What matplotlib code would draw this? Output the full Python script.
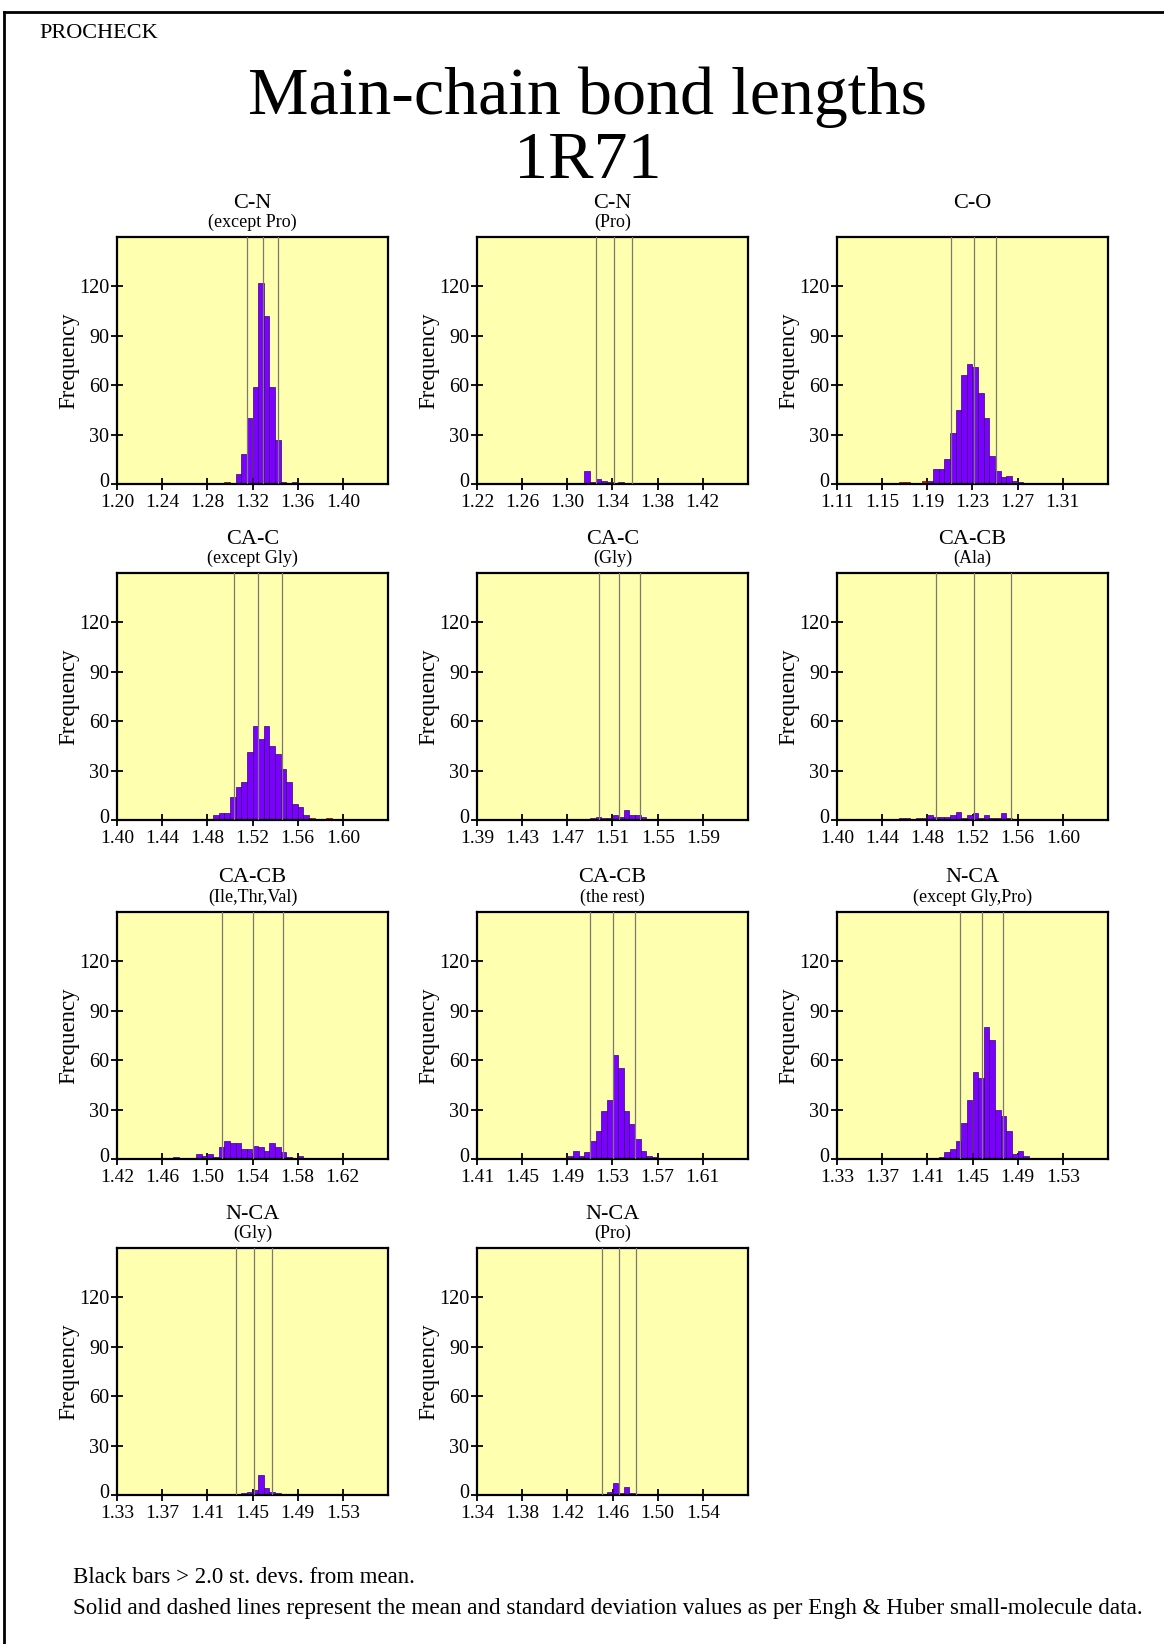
import matplotlib
matplotlib.use('Agg')
import matplotlib.pyplot as plt
from matplotlib.lines import Line2D
from matplotlib.transforms import ScaledTranslation
import numpy as np

plt.rcParams['font.family'] = ['Liberation Serif', 'DejaVu Serif']

W, H = 1164, 1644
BIN = 0.005

# panel labels
titles = ['C-N', 'C-N', 'C-O', 'CA-C', 'CA-C', 'CA-CB', 'CA-CB', 'CA-CB', 'N-CA', 'N-CA', 'N-CA']
subtitles = ['(except Pro)', '(Pro)', '', '(except Gly)', '(Gly)', '(Ala)',
             '(Ile,Thr,Val)', '(the rest)', '(except Gly,Pro)', '(Gly)', '(Pro)']
x_start = [1.20, 1.22, 1.11, 1.40, 1.39, 1.40, 1.42, 1.41, 1.33, 1.33, 1.34]

# Engh & Huber mean / sd
means = [1.329, 1.341, 1.231, 1.525, 1.516, 1.521, 1.540, 1.530, 1.458, 1.451, 1.466]
sds = [0.014, 0.016, 0.020, 0.021, 0.018, 0.033, 0.027, 0.020, 0.019, 0.016, 0.015]

# histogram counts (first bin left edge, counts per 0.005 bin)
cn_first, cn_counts = 1.305, [6, 18, 40, 59, 122, 102, 59, 27, 1, 0, 1]
cnpro_first, cnpro_counts = 1.315, [8, 1, 3, 2, 1, 0, 1]
co_first, co_counts = 1.19, [2, 9, 9, 15, 31, 45, 66, 73, 71, 55, 40, 17, 8, 4, 5, 2, 1]
cac_first, cac_counts = 1.485, [3, 4, 4, 14, 20, 23, 41, 57, 49, 57, 45, 40, 31, 23, 10, 8, 3]
cacgly_first, cacgly_counts = 1.49, [1, 2, 1, 1, 3, 2, 6, 3, 3, 2]
ala_first, ala_counts = 1.455, [1, 1, 0, 1, 1, 3, 2, 2, 2, 3, 5, 1, 3, 4, 1, 3, 1, 1, 4, 1]
ile_first, ile_counts = 1.47, [1, 0, 0, 0, 3, 2, 3, 1, 7, 11, 10, 10, 6, 6, 8, 7, 5, 10, 7, 4, 1, 0, 2]
rest_first, rest_counts = 1.49, [2, 5, 2, 4, 11, 17, 29, 36, 63, 55, 29, 21, 12, 5, 2, 1]
nca_first, nca_counts = 1.42, [1, 4, 6, 11, 22, 36, 53, 49, 80, 72, 30, 26, 17, 3, 5, 2]
ncagly_first, ncagly_counts = 1.44, [1, 2, 3, 12, 4, 2, 1]
ncapro_first, ncapro_counts = 1.455, [2, 7, 1, 5, 1]

firsts = [cn_first, cnpro_first, co_first, cac_first, cacgly_first, ala_first,
          ile_first, rest_first, nca_first, ncagly_first, ncapro_first]
counts = [cn_counts, cnpro_counts, co_counts, cac_counts, cacgly_counts, ala_counts,
          ile_counts, rest_counts, nca_counts, ncagly_counts, ncapro_counts]

# outlier bins drawn in red
red_bins = {0: ([1.295], [1]), 2: ([1.165, 1.17, 1.185], [1, 1, 2]), 3: ([1.57, 1.585], [1, 1])}

fig = plt.figure(figsize=(W / 100, H / 100), dpi=100)

col_left = [117, 477, 837]
row_top = [237, 573, 912, 1248]
aw, ah = 271, 247

for i in range(11):
    r, c = divmod(i, 3)
    left, top = col_left[c], row_top[r]
    ax = fig.add_axes([left / W, 1 - (top + ah) / H, aw / W, ah / H])
    ax.set_facecolor('#ffffb0')
    lefts = firsts[i] + BIN * np.arange(len(counts[i]))
    ax.bar(lefts, counts[i], width=BIN, align='edge', color='#7a00ff',
           edgecolor='#3a0070', linewidth=0.5, zorder=2)
    if i in red_bins:
        ax.bar(red_bins[i][0], red_bins[i][1], width=BIN, align='edge',
               color='#d01010', edgecolor='#800000', linewidth=0.5, zorder=2)
    for v in (means[i] - sds[i], means[i], means[i] + sds[i]):
        ax.axvline(v, color='#7a7a70', lw=0.9, zorder=3)
    ax.set_xlim(x_start[i], x_start[i] + 0.24)
    ax.set_ylim(0, 150)
    xt = x_start[i] + 0.04 * np.arange(6)
    ax.set_xticks(xt)
    ax.set_xticklabels(['%.2f' % v for v in xt])
    ax.set_yticks([0, 30, 60, 90, 120])
    ax.tick_params(direction='inout', length=9, width=1.3, labelsize=14.5, pad=1)
    ax.tick_params(axis='x', labelsize=14, pad=3)
    # lift the "0" label slightly so it clears the first x label
    lab0 = ax.yaxis.get_major_ticks()[0].label1
    lab0.set_transform(lab0.get_transform() + ScaledTranslation(0, 3 / 72, fig.dpi_scale_trans))
    for s in ax.spines.values():
        s.set_linewidth(1.6)
    ax.set_ylabel('Frequency', fontsize=16.5)
    ax.yaxis.set_label_coords(-0.14, 0.5)
    cx = (left + aw / 2) / W
    fig.text(cx, 1 - (top - 34) / H, titles[i], ha='center', va='center', fontsize=16)
    if subtitles[i]:
        fig.text(cx, 1 - (top - 15) / H, subtitles[i], ha='center', va='center', fontsize=13)

fig.text(39 / W, 1 - 33 / H, 'PROCHECK', ha='left', va='center', fontsize=16)
fig.text(588 / W, 1 - 97 / H, 'Main-chain bond lengths', ha='center', va='center', fontsize=49)
fig.text(588 / W, 1 - 162 / H, '1R71', ha='center', va='center', fontsize=49)
fig.text(73 / W, 1 - 1577 / H, 'Black bars > 2.0 st. devs. from mean.', ha='left', va='center', fontsize=16.5)
fig.text(73 / W, 1 - 1608 / H,
         'Solid and dashed lines represent the mean and standard deviation values as per Engh & Huber small-molecule data.',
         ha='left', va='center', fontsize=16.7)

# page frame
fig.add_artist(Line2D([4 / W, 1], [1 - 12 / H, 1 - 12 / H], color='black', lw=2))
fig.add_artist(Line2D([4 / W, 4 / W], [0, 1 - 12 / H], color='black', lw=2))

fig.savefig('out.png', dpi=100, facecolor='white')
